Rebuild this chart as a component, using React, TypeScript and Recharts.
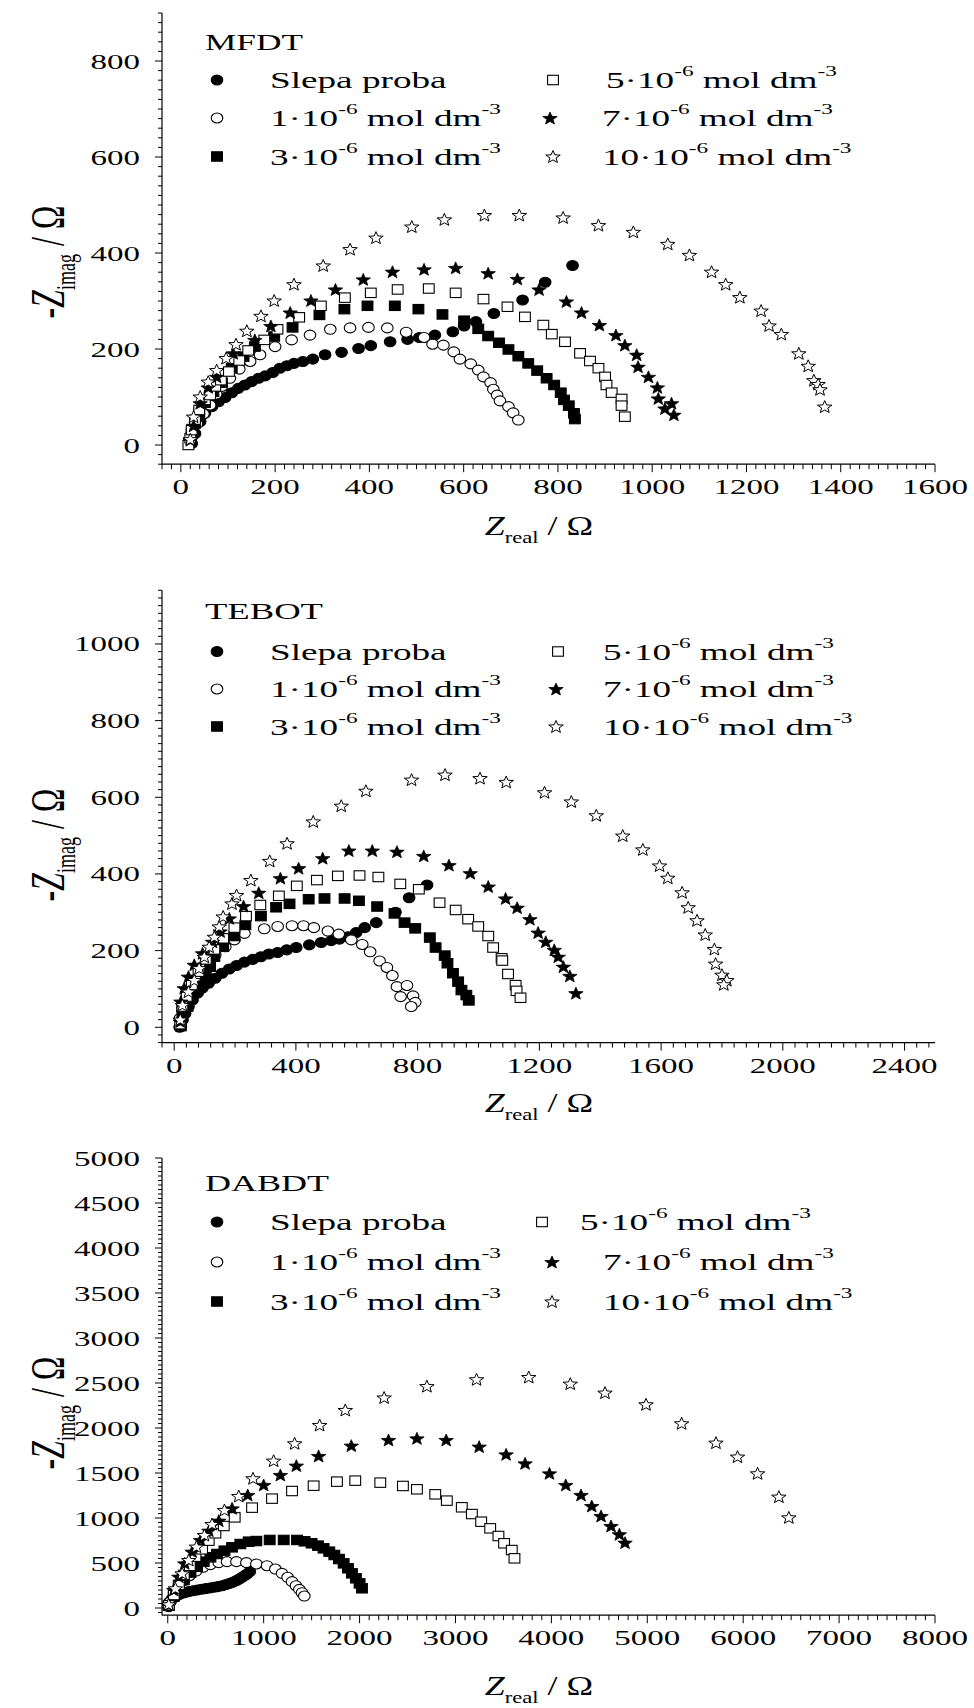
import React from "react";
import { ScatterChart, Scatter, XAxis, YAxis } from "recharts";

type Pt = [number, number];

// MFDT  (x = Z_real / Ω, y = -Z_imag / Ω)
const mfdtBlank: Pt[] = [[23,3],[30,24],[41,49],[51,66],[66,80],[80,90],[94,99],[108,109],[122,118],[136,125],[150,132],[165,139],[179,144],[195,151],[210,160],[225,165],[240,170],[259,174],[280,179],[306,188],[341,193],[377,201],[403,207],[444,215],[481,220],[506,224],[539,229],[577,236],[601,248],[626,257],[664,274],[725,302],[773,339],[831,374]];
const mfdt1: Pt[] = [[23,24],[34,44],[48,65],[62,83],[75,106],[87,122],[104,139],[124,158],[147,174],[168,188],[200,205],[235,219],[274,229],[317,241],[359,244],[398,245],[438,244],[478,235],[516,224],[534,210],[557,208],[579,194],[592,179],[615,169],[631,156],[642,142],[657,130],[663,116],[671,104],[677,92],[695,80],[705,67],[716,52]];
const mfdt3: Pt[] = [[18,5],[23,24],[30,45],[39,66],[51,88],[69,111],[87,130],[108,160],[133,184],[157,205],[198,226],[237,245],[294,271],[347,283],[396,290],[454,290],[504,283],[555,272],[601,259],[631,242],[652,227],[675,213],[695,199],[716,185],[737,170],[756,155],[776,139],[792,125],[806,109],[813,94],[823,82],[834,66],[836,54]];
const mfdt5: Pt[] = [[16,0],[20,14],[23,31],[30,52],[39,73],[51,94],[62,104],[73,122],[85,135],[102,153],[124,176],[143,197],[177,219],[205,241],[251,266],[297,290],[348,307],[403,317],[460,324],[526,326],[583,317],[642,304],[693,288],[730,267],[769,250],[787,231],[815,215],[847,191],[868,175],[886,160],[900,142],[903,125],[914,109],[935,96],[935,82],[942,59]];
const mfdt7: Pt[] = [[20,10],[27,40],[41,87],[58,120],[76,142],[111,191],[157,219],[191,248],[232,276],[276,301],[328,324],[387,345],[449,361],[516,366],[583,369],[652,358],[714,346],[760,324],[818,299],[850,276],[888,250],[923,229],[942,208],[967,188],[970,163],[992,142],[1011,120],[1013,97],[1027,76],[1041,87],[1046,63]];
const mfdt10: Pt[] = [[20,12],[27,59],[41,101],[58,132],[76,156],[96,181],[117,210],[140,238],[170,269],[198,301],[240,335],[302,374],[359,408],[414,432],[490,455],[559,470],[644,479],[718,479],[811,474],[886,458],[960,444],[1033,419],[1079,396],[1126,361],[1156,335],[1186,308],[1231,280],[1248,249],[1274,231],[1311,191],[1331,165],[1343,135],[1352,127],[1356,116],[1366,80]];

// TEBOT
const tebotBlank: Pt[] = [[18,0],[22,2],[27,19],[36,36],[47,54],[60,71],[77,89],[93,102],[113,115],[135,128],[157,141],[181,152],[205,161],[231,170],[258,177],[285,184],[311,191],[340,195],[370,202],[401,208],[444,215],[483,221],[516,226],[543,230],[571,236],[598,247],[626,260],[664,273],[727,300],[772,338],[831,371]];
const tebot1: Pt[] = [[19,23],[27,45],[38,67],[49,89],[66,110],[82,132],[104,154],[135,189],[168,210],[198,228],[231,245],[296,257],[340,263],[387,265],[425,265],[459,260],[505,251],[541,243],[582,228],[618,216],[644,197],[675,173],[699,156],[717,135],[732,106],[765,109],[744,80],[785,82],[792,65],[779,54]];
const tebot3: Pt[] = [[22,3],[27,28],[44,54],[60,80],[82,106],[104,132],[118,158],[132,184],[161,210],[198,238],[234,267],[285,290],[335,313],[379,322],[442,334],[494,336],[560,336],[607,330],[667,315],[724,297],[757,273],[792,258],[840,234],[859,208],[889,187],[898,167],[916,141],[933,119],[944,97],[960,84],[968,70]];
const tebot5: Pt[] = [[20,8],[27,54],[41,80],[58,110],[80,145],[104,177],[132,203],[161,232],[198,260],[236,290],[283,319],[344,343],[403,369],[469,384],[538,395],[609,396],[671,392],[743,374],[804,360],[872,325],[925,306],[966,282],[999,263],[1032,238],[1048,208],[1076,180],[1078,174],[1097,139],[1122,110],[1125,95],[1138,77]];
const tebot7: Pt[] = [[20,15],[22,67],[33,102],[47,132],[66,163],[93,193],[126,223],[151,250],[181,284],[228,316],[278,351],[349,389],[409,415],[488,441],[574,461],[651,461],[732,458],[820,447],[903,423],[973,402],[1032,367],[1089,336],[1127,312],[1169,282],[1196,247],[1221,223],[1249,202],[1262,184],[1279,158],[1300,134],[1320,89]];
const tebot10: Pt[] = [[20,20],[27,58],[47,93],[66,123],[82,154],[99,184],[115,210],[132,236],[148,263],[161,289],[190,323],[205,345],[252,384],[314,434],[371,480],[457,537],[549,578],[630,617],[780,646],[890,659],[1005,650],[1091,640],[1217,613],[1305,589],[1387,553],[1474,500],[1540,464],[1595,422],[1622,390],[1669,352],[1689,313],[1718,279],[1745,242],[1775,204],[1779,166],[1800,137],[1816,123],[1806,112]];

// DABDT
const dabdtBlank: Pt[] = [[10,15],[21,70],[45,100],[70,126],[100,142],[132,156],[175,170],[219,182],[262,192],[306,200],[350,208],[393,215],[436,222],[480,230],[523,238],[566,248],[606,260],[646,274],[682,288],[716,304],[746,322],[775,341],[801,360],[827,378],[855,404]];
const dabdt1: Pt[] = [[10,20],[27,70],[70,163],[115,237],[167,304],[226,359],[296,411],[368,452],[445,482],[532,504],[618,515],[716,515],[820,504],[924,489],[1035,470],[1122,433],[1191,385],[1250,341],[1296,293],[1337,248],[1372,207],[1400,170],[1424,133]];
const dabdt3: Pt[] = [[10,25],[63,126],[115,219],[167,311],[237,393],[306,459],[375,515],[445,563],[514,600],[591,637],[671,674],[757,711],[844,737],[924,744],[1063,756],[1209,756],[1348,756],[1427,741],[1500,719],[1566,693],[1625,663],[1684,626],[1737,589],[1785,544],[1834,496],[1879,441],[1921,385],[1962,330],[2000,274],[2025,219]];
const dabdt5: Pt[] = [[10,30],[63,144],[115,256],[167,367],[230,467],[289,570],[358,652],[427,748],[497,830],[584,911],[698,1007],[879,1115],[1087,1215],[1296,1300],[1521,1359],[1764,1404],[1955,1415],[2216,1393],[2452,1356],[2598,1319],[2789,1263],[2910,1193],[3066,1119],[3171,1044],[3268,959],[3362,885],[3448,800],[3507,719],[3587,644],[3615,552]];
const dabdt7: Pt[] = [[10,35],[63,200],[115,348],[177,496],[254,626],[341,756],[428,859],[532,970],[671,1107],[834,1256],[1000,1367],[1174,1478],[1341,1582],[1573,1689],[1914,1804],[2302,1867],[2598,1885],[2903,1867],[3247,1793],[3528,1707],[3726,1607],[3980,1496],[4150,1367],[4309,1256],[4421,1133],[4518,1022],[4622,911],[4709,819],[4768,726]];
const dabdt10: Pt[] = [[10,40],[80,218],[150,385],[219,533],[299,682],[382,811],[462,933],[591,1089],[740,1244],[889,1441],[1104,1637],[1323,1830],[1584,2033],[1851,2200],[2256,2339],[2702,2465],[3220,2541],[3764,2566],[4197,2493],[4559,2393],[4987,2263],[5358,2052],[5716,1837],[5941,1682],[6150,1496],[6372,1237],[6476,1007]];

const blankLabel = "Slepa proba";
const concLabels = ["1", "3", "5", "7", "10"];

const mfdtXTicks = [0, 200, 400, 600, 800, 1000, 1200, 1400, 1600];
const mfdtYTicks = [0, 200, 400, 600, 800];
const tebotXTicks = [0, 400, 800, 1200, 1600, 2000, 2400];
const tebotYTicks = [0, 200, 400, 600, 800, 1000];
const dabdtXTicks = [0, 1000, 2000, 3000, 4000, 5000, 6000, 7000, 8000];
const dabdtYTicks = [0, 500, 1000, 1500, 2000, 2500, 3000, 3500, 4000, 4500, 5000];

const FONT = '"Liberation Serif", "Times New Roman", serif';
const SX = 1.5; // the original figure is stretched sideways
const DIGIT_W = 16.5; // width of one stretched tick digit
const AXIS = { stroke: "#000", strokeWidth: 1.2 };

type Kind = "circle" | "square" | "star";
const STYLES: { kind: Kind; filled: boolean }[] = [
  { kind: "circle", filled: true },
  { kind: "circle", filled: false },
  { kind: "square", filled: true },
  { kind: "square", filled: false },
  { kind: "star", filled: true },
  { kind: "star", filled: false },
];

function Marker({ cx, cy, kind, filled }: { cx: number; cy: number; kind: Kind; filled: boolean }) {
  if (cx == null || cy == null) return null;
  const fill = filled ? "#000" : "#fff";
  if (kind === "circle")
    return <ellipse cx={cx} cy={cy} rx={5.8} ry={5} fill={fill} stroke="#000" strokeWidth={1.1} />;
  if (kind === "square")
    return <rect x={cx - 5.4} y={cy - 4.7} width={10.8} height={9.4} fill={fill} stroke="#000" strokeWidth={1.1} />;
  const pts: string[] = [];
  for (let i = 0; i < 10; i++) {
    const a = (-90 + i * 36) * (Math.PI / 180);
    const r = i % 2 === 0 ? 6.6 : 2.8;
    pts.push(`${cx + r * Math.cos(a) * 1.15},${cy + r * Math.sin(a) + 0.6}`);
  }
  return <polygon points={pts.join(" ")} fill={fill} stroke="#000" strokeWidth={filled ? 0.8 : 1} strokeLinejoin="miter" />;
}

function tickRange(domain: number[], step: number) {
  const out: number[] = [];
  for (let v = Math.ceil(domain[0] / step) * step; v <= domain[1]; v += step) out.push(v);
  return out;
}

const BottomTick = (majors: number[]) => (props: any) => {
  const { x, y, payload } = props;
  const major = majors.includes(payload.value);
  const label = String(payload.value);
  return (
    <g>
      <line x1={x} x2={x} y1={y} y2={y + (major ? 8 : 5)} stroke="#000" strokeWidth={1} />
      {major && (
        <text x={x} y={y + 30} textAnchor="middle" fontFamily={FONT} fontSize={22} fill="#000"
          textLength={label.length * DIGIT_W} lengthAdjust="spacingAndGlyphs">
          {label}
        </text>
      )}
    </g>
  );
};

const LeftTick = (majors: number[]) => (props: any) => {
  const { x, y, payload } = props;
  const major = majors.includes(payload.value);
  const label = String(payload.value);
  return (
    <g>
      <line x1={x} x2={x - (major ? 7 : 4)} y1={y} y2={y} stroke="#000" strokeWidth={1} />
      {major && (
        <text x={x - 22} y={y + 7.5} textAnchor="end" fontFamily={FONT} fontSize={22} fill="#000"
          textLength={label.length * DIGIT_W} lengthAdjust="spacingAndGlyphs">
          {label}
        </text>
      )}
    </g>
  );
};

const TopTick = (props: any) => <line x1={props.x} x2={props.x} y1={props.y} y2={props.y - 2} stroke="#555" strokeWidth={1} />;
const RightTick = (props: any) => <line x1={props.x} x2={props.x + 2} y1={props.y} y2={props.y} stroke="#555" strokeWidth={1} />;

type PanelCfg = {
  header: string;
  headerW: number;
  top: number;
  height: number;
  margin: { top: number; right: number; bottom: number; left: number };
  xDomain: number[];
  xTicks: number[];
  xMinor: number;
  yDomain: number[];
  yTicks: number[];
  yMinor: number;
  series: Pt[][];
  headerY: number;
  rows: number[];
  col2Marker: number[];
  col2Text: number[];
  xTitleY: number;
  yTitleCy: number;
};

const panels: PanelCfg[] = [
  {
    header: "MFDT", headerW: 98, top: 0, height: 570,
    margin: { top: 13, right: 39, bottom: 45.8, left: 0 },
    xDomain: [-40, 1600], xTicks: mfdtXTicks, xMinor: 20,
    yDomain: [-40, 900], yTicks: mfdtYTicks, yMinor: 20,
    series: [mfdtBlank, mfdt1, mfdt3, mfdt5, mfdt7, mfdt10],
    headerY: 50, rows: [80, 118, 156.5], col2Marker: [553, 550, 553], col2Text: [606, 602, 602],
    xTitleY: 535, yTitleCy: 262,
  },
  {
    header: "TEBOT", headerW: 118, top: 570, height: 570,
    margin: { top: 20.3, right: 39, bottom: 37.4, left: 0 },
    xDomain: [-40, 2500], xTicks: tebotXTicks, xMinor: 40,
    yDomain: [-40, 1140], yTicks: tebotYTicks, yMinor: 20,
    series: [tebotBlank, tebot1, tebot3, tebot5, tebot7, tebot10],
    headerY: 49, rows: [81.5, 119, 156.5], col2Marker: [558, 556, 556], col2Text: [603, 603, 603],
    xTitleY: 542, yTitleCy: 275,
  },
  {
    header: "DABDT", headerW: 124, top: 1140, height: 568,
    margin: { top: 18, right: 39, bottom: 32.8, left: 0 },
    xDomain: [-60, 8000], xTicks: dabdtXTicks, xMinor: 100,
    yDomain: [-80, 5000], yTicks: dabdtYTicks, yMinor: 50,
    series: [dabdtBlank, dabdt1, dabdt3, dabdt5, dabdt7, dabdt10],
    headerY: 51, rows: [82, 122, 161.5], col2Marker: [542, 552, 552], col2Text: [580, 603, 603],
    xTitleY: 555, yTitleCy: 273,
  },
];

function ConcText({ x, y, c }: { x: number; y: number; c: string }) {
  return (
    <g transform={`translate(${x},${y}) scale(1.55,1)`}>
      <text x={0} y={0} fontFamily={FONT} fontSize={24} fill="#000" style={{ whiteSpace: "pre" }}>
        {`${c}·10`}
        <tspan dy={-12} fontSize={15}>-6</tspan>
        <tspan dy={12} fontSize={24}>{" mol dm"}</tspan>
        <tspan dy={-12} fontSize={15}>-3</tspan>
      </text>
    </g>
  );
}

function Overlay({ p }: { p: PanelCfg }) {
  const col1 = [
    { style: STYLES[0], label: null as string | null },
    { style: STYLES[1], label: concLabels[0] },
    { style: STYLES[2], label: concLabels[1] },
  ];
  const col2 = [
    { style: STYLES[3], label: concLabels[2] },
    { style: STYLES[4], label: concLabels[3] },
    { style: STYLES[5], label: concLabels[4] },
  ];
  return (
    <svg width={974} height={p.height} style={{ position: "absolute", left: 0, top: 0, pointerEvents: "none" }}>
      <text x={205} y={p.headerY} fontFamily={FONT} fontSize={24} fill="#000"
        textLength={p.headerW} lengthAdjust="spacingAndGlyphs">
        {p.header}
      </text>
      {col1.map((it, i) => (
        <g key={`a${i}`}>
          <Marker cx={217} cy={p.rows[i]} kind={it.style.kind} filled={it.style.filled} />
          {it.label === null ? (
            <g transform={`translate(270,${p.rows[i] + 8}) scale(1.55,1)`}>
              <text fontFamily={FONT} fontSize={24} fill="#000">{blankLabel}</text>
            </g>
          ) : (
            <ConcText x={270} y={p.rows[i] + 8} c={it.label} />
          )}
        </g>
      ))}
      {col2.map((it, i) => (
        <g key={`b${i}`}>
          <Marker cx={p.col2Marker[i]} cy={p.rows[i]} kind={it.style.kind} filled={it.style.filled} />
          <ConcText x={p.col2Text[i]} y={p.rows[i] + 8} c={it.label as string} />
        </g>
      ))}
      <g transform={`translate(539,${p.xTitleY}) scale(1.33,1)`}>
        <text textAnchor="middle" fontFamily={FONT} fontSize={27} fill="#000" style={{ whiteSpace: "pre" }}>
          <tspan fontStyle="italic">Z</tspan>
          <tspan fontSize={17} dy={8}>real</tspan>
          <tspan dy={-8}>{" / Ω"}</tspan>
        </text>
      </g>
      <g transform={`translate(64,${p.yTitleCy}) rotate(-90) scale(1,${SX})`}>
        <text textAnchor="middle" fontFamily={FONT} fontSize={32} fill="#000" style={{ whiteSpace: "pre" }}>
          -<tspan fontStyle="italic">Z</tspan>
          <tspan fontSize={18} dy={7}>imag</tspan>
          <tspan dy={-7}>{" / Ω"}</tspan>
        </text>
      </g>
    </svg>
  );
}

function Panel({ p }: { p: PanelCfg }) {
  const xAll = tickRange(p.xDomain, p.xMinor);
  const yAll = tickRange(p.yDomain, p.yMinor);
  return (
    <div style={{ position: "absolute", left: 0, top: p.top, width: 974, height: p.height }}>
      <ScatterChart width={974} height={p.height} margin={p.margin}>
        <XAxis type="number" dataKey="x" domain={p.xDomain} ticks={xAll} interval={0} allowDataOverflow
          height={60} tickSize={0} tickMargin={0} tickLine={false} axisLine={AXIS} tick={BottomTick(p.xTicks)} />
        <XAxis xAxisId="top" orientation="top" type="number" domain={p.xDomain} ticks={xAll} interval={0} allowDataOverflow
          height={0} tickSize={0} tickMargin={0} tickLine={false} axisLine={{ stroke: "#000", strokeWidth: 1 }} tick={TopTick} />
        <YAxis type="number" dataKey="y" domain={p.yDomain} ticks={yAll} interval={0} allowDataOverflow
          width={162} tickSize={0} tickMargin={0} tickLine={false} axisLine={AXIS} tick={LeftTick(p.yTicks)} />
        <YAxis yAxisId="right" orientation="right" type="number" domain={p.yDomain} ticks={yAll} interval={0} allowDataOverflow
          width={0} tickSize={0} tickMargin={0} tickLine={false} axisLine={{ stroke: "#000", strokeWidth: 1 }} tick={RightTick} />
        {p.series.map((s, i) => (
          <Scatter
            key={i}
            data={s.map(([x, y]) => ({ x, y }))}
            isAnimationActive={false}
            shape={(props: any) => <Marker cx={props.cx} cy={props.cy} kind={STYLES[i].kind} filled={STYLES[i].filled} />}
          />
        ))}
      </ScatterChart>
      <Overlay p={p} />
    </div>
  );
}

export default function App() {
  return (
    <div style={{ position: "absolute", left: 0, top: 0, width: 974, height: 1708, background: "#fff", overflow: "hidden" }}>
      {panels.map((p) => (
        <Panel key={p.header} p={p} />
      ))}
    </div>
  );
}
